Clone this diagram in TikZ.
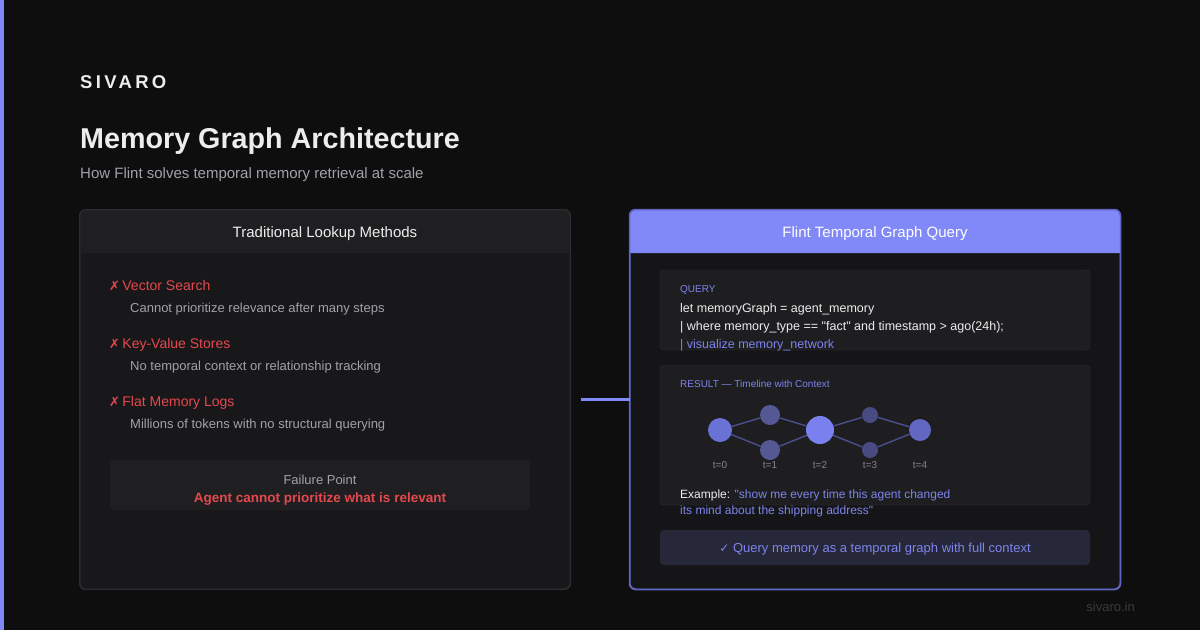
\documentclass[tikz,border=0pt]{standalone}
\usepackage{fontspec}
\setmainfont{Liberation Sans}[Ligatures=TeXOff]
\newfontfamily\symfont{DejaVu Sans}
\usepackage{xcolor}
\usetikzlibrary{positioning}

\definecolor{bgdark}{HTML}{0E0E0F}
\definecolor{accent}{HTML}{8188F7}
\definecolor{accenttext}{HTML}{7D84EC}
\definecolor{panelfill}{HTML}{18181B}
\definecolor{panelline}{HTML}{2C2C30}
\definecolor{headfill}{HTML}{1F1F22}
\definecolor{flintfill}{HTML}{151518}
\definecolor{flintline}{HTML}{5F65C0}
\definecolor{boxfill}{HTML}{1E1E21}
\definecolor{boxline}{HTML}{2F2F33}
\definecolor{okfill}{HTML}{262839}
\definecolor{failred}{HTML}{E5484D}
\definecolor{softgray}{HTML}{A1A1AA}
\definecolor{dimgray}{HTML}{85858D}
\definecolor{nearwhite}{HTML}{EDEDED}
\definecolor{sitegray}{HTML}{3A3A3F}
\definecolor{edgecol}{HTML}{4A4F8C}
\definecolor{tzero}{HTML}{6B72D6}
\definecolor{tone}{HTML}{545994}
\definecolor{ttwo}{HTML}{7A80EE}
\definecolor{tthree}{HTML}{474B82}
\definecolor{tfour}{HTML}{6268C2}

\newcommand{\fsz}[1]{\fontsize{#1}{#1}\selectfont}

\begin{document}
\begin{tikzpicture}[x=1pt,y=-1pt,
    panel/.style={rounded corners=6pt, line width=1pt, inner sep=0pt,
        minimum width=490pt, minimum height=379pt},
    innerbox/.style={rounded corners=4pt, inner sep=0pt, minimum width=430pt},
    lbl/.style={anchor=base west, inner sep=0pt},
    tnode/.style={circle, inner sep=0pt},
    tedge/.style={draw=edgecol, line width=1.4pt},
    tlabel/.style={text=dimgray, font=\fsz{10}, inner sep=0pt},
    link/.style={draw=accent, line width=3pt}]

    % background and accent bar
    \fill[bgdark] (0,0) rectangle (1200,630);
    \fill[accent] (0,0) rectangle (4,630);

    % heading
    \node[lbl, text=nearwhite] (brand) at (80,88)
        {\fsz{18.5}\addfontfeature{LetterSpace=18}\bfseries SIVARO};
    \node[lbl, text=nearwhite] (title) at (80,148)
        {\fsz{28.7}\bfseries Memory Graph Architecture};
    \node[lbl, text=softgray] (subtitle) at (80,178)
        {\fsz{15}How Flint solves temporal memory retrieval at scale};

    % left panel
    \node[panel, fill=panelfill, draw=panelline] (trad) at (325,399.5) {};
    \fill[headfill] (80.5,253) [rounded corners=6pt] -- (80.5,210.5) -- (569.5,210.5)
        [sharp corners] -- (569.5,253) -- cycle;
    \draw[panelline, line width=1pt, rounded corners=6pt] (trad.north west) rectangle (trad.south east);
    \node[text=nearwhite, font=\fsz{15}, anchor=base] (tradhead) at (325,237) {Traditional Lookup Methods};

    \node[lbl, text=failred] (vec) at (109,290) {\fsz{14}{\symfont\fsz{13}✗}\,Vector Search};
    \node[lbl, text=softgray] (vecd) at (130,312) {\fsz{13}Cannot prioritize relevance after many steps};
    \node[lbl, text=failred] (kv) at (109,348) {\fsz{14}{\symfont\fsz{13}✗}\,Key-Value Stores};
    \node[lbl, text=softgray] (kvd) at (130,370) {\fsz{13}No temporal context or relationship tracking};
    \node[lbl, text=failred] (flat) at (109,406) {\fsz{14}{\symfont\fsz{13}✗}\,Flat Memory Logs};
    \node[lbl, text=softgray] (flatd) at (130,428) {\fsz{13}Millions of tokens with no structural querying};

    \node[innerbox, fill=headfill, minimum width=420pt, minimum height=50pt] (fail) at (320,485) {};
    \node[text=softgray, font=\fsz{13}, anchor=base] (failt) at (320,484) {Failure Point};
    \node[text=failred, font=\fsz{13.5}\bfseries, anchor=base] (failm) at (320,502)
        {Agent cannot prioritize what is relevant};

    % right panel
    \node[panel, fill=flintfill, draw=flintline] (flint) at (875,399.5) {};
    \fill[accent] (630,253) [rounded corners=6pt] -- (630,210) -- (1120,210)
        [sharp corners] -- (1120,253) -- cycle;
    \draw[flintline, line width=1.5pt, rounded corners=6pt] (flint.north west) rectangle (flint.south east);
    \node[text=white, font=\fsz{15}, anchor=base] (flinthead) at (875,237) {Flint Temporal Graph Query};

    % connector
    \draw[link] ([xshift=10pt]trad.east) -- (flint.west);

    % query box
    \node[innerbox, fill=boxfill, draw=boxline, minimum height=80pt] (query) at (875,310) {};
    \node[lbl, text=accenttext] (qlbl) at (680,292) {\fsz{10}QUERY};
    \node[lbl, text=nearwhite] (q1) at (680,312) {\fsz{12.5}let memoryGraph = agent\_memory};
    \node[lbl, text=nearwhite] (q2) at (680,330)
        {\fsz{12.5}| where memory\_type == "fact" and timestamp > ago(24h);};
    \node[lbl, text=accenttext] (q3) at (680,348) {\fsz{12.5}| visualize memory\_network};

    % result box
    \node[innerbox, fill=boxfill, draw=boxline, minimum height=140pt] (result) at (875,435) {};
    \node[lbl, text=accenttext] (rlbl) at (680,387) {\fsz{10}RESULT — Timeline with Context};

    % timeline graph
    \node[tnode, fill=tzero, minimum size=24pt] (n0) at (720,430) {};
    \node[tnode, fill=tone, minimum size=20pt] (n1a) at (770,415) {};
    \node[tnode, fill=tone, minimum size=20pt] (n1b) at (770,450) {};
    \node[tnode, fill=ttwo, minimum size=28pt] (n2) at (820,430) {};
    \node[tnode, fill=tthree, minimum size=16pt] (n3a) at (870,415) {};
    \node[tnode, fill=tthree, minimum size=16pt] (n3b) at (870,450) {};
    \node[tnode, fill=tfour, minimum size=22pt] (n4) at (920,430) {};
    \foreach \a/\b in {n0/n1a, n0/n1b, n1a/n2, n1b/n2, n2/n3a, n2/n3b, n3a/n4, n3b/n4}
        \draw[tedge] (\a) -- (\b);
    \foreach \x [count=\i from 0] in {720,770,820,870,920}
        \node[tlabel] (t\i) at (\x,465) {t=\i};

    \node[lbl, text=nearwhite] (ex1) at (680,498)
        {\fsz{12}Example: \textcolor{accenttext}{"show me every time this agent changed}};
    \node[lbl, text=accenttext] (ex2) at (680,514) {\fsz{12}its mind about the shipping address"};

    % bottom verdict
    \node[innerbox, fill=okfill, minimum height=35pt] (ok) at (875,547.5) {};
    \node[text=accenttext, font=\fsz{13}, anchor=base] (okt) at (875,552.5)
        {{\symfont\fsz{12}✓} Query memory as a temporal graph with full context};

    % footer
    \node[anchor=base east, inner sep=0pt, text=sitegray, font=\fsz{13}] (site) at (1135,611) {sivaro.in};
\end{tikzpicture}
\end{document}
